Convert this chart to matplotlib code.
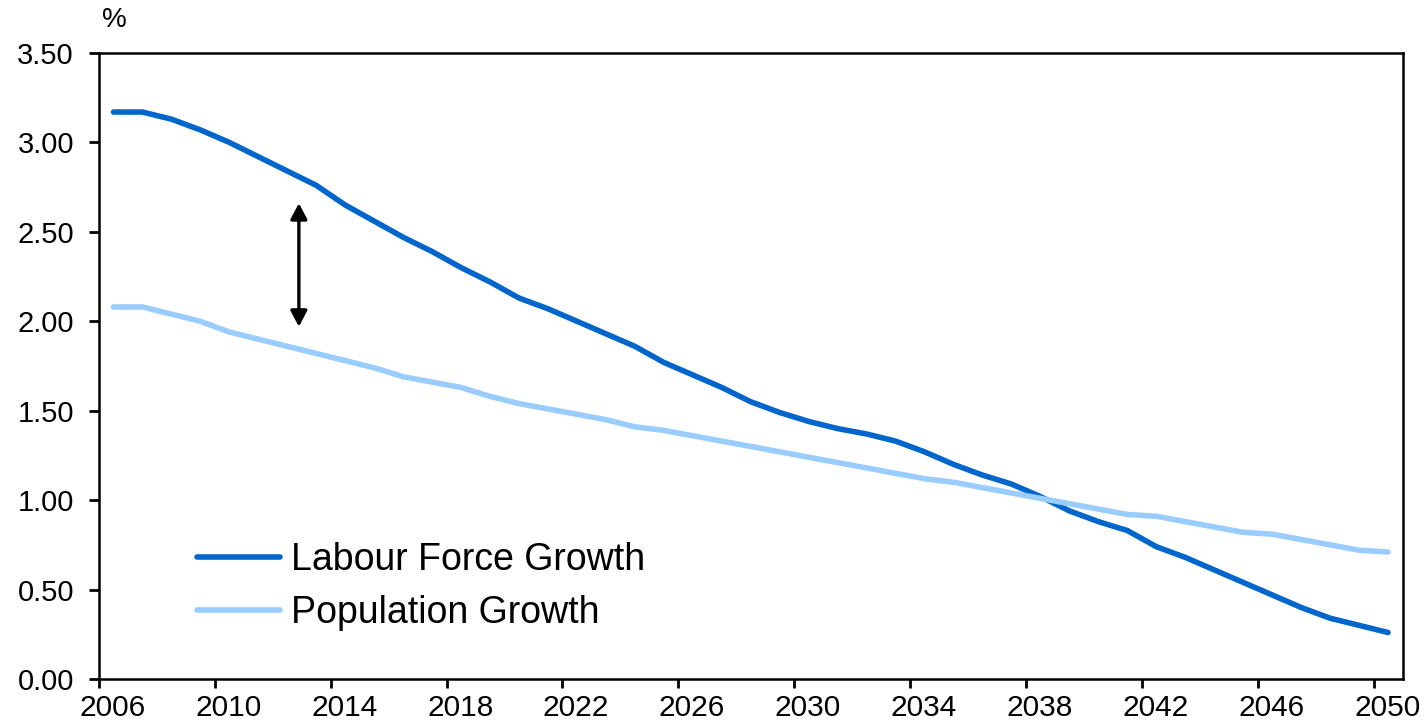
import matplotlib
matplotlib.use("Agg")
import matplotlib.pyplot as plt
import numpy as np

years = list(range(2006, 2051))

labour_force_growth = [
    3.17, 3.17, 3.13, 3.07, 3.00, 2.92, 2.84, 2.76, 2.65, 2.56,
    2.47, 2.39, 2.30, 2.22, 2.13, 2.07, 2.00, 1.93, 1.86, 1.77,
    1.70, 1.63, 1.55, 1.49, 1.44, 1.40, 1.37, 1.33, 1.27, 1.20,
    1.14, 1.09, 1.02, 0.94, 0.88, 0.83, 0.74, 0.68, 0.61, 0.54,
    0.47, 0.40, 0.34, 0.30, 0.26,
]

population_growth = [
    2.08, 2.08, 2.04, 2.00, 1.94, 1.90, 1.86, 1.82, 1.78, 1.74,
    1.69, 1.66, 1.63, 1.58, 1.54, 1.51, 1.48, 1.45, 1.41, 1.39,
    1.36, 1.33, 1.30, 1.27, 1.24, 1.21, 1.18, 1.15, 1.12, 1.10,
    1.07, 1.04, 1.01, 0.98, 0.95, 0.92, 0.91, 0.88, 0.85, 0.82,
    0.81, 0.78, 0.75, 0.72, 0.71,
]

series_labels = ["Labour Force Growth", "Population Growth"]
series_colors = ["#0066CC", "#99CCFF"]

# gap marker between the two series around 2012
gap_year = 2012.4
gap_top, gap_bottom = 2.66, 1.97

tick_years = list(range(2006, 2051, 4))
y_ticks = [0.0, 0.5, 1.0, 1.5, 2.0, 2.5, 3.0, 3.5]

plt.rcParams["font.family"] = ["Liberation Sans", "DejaVu Sans"]

W, H = 1424, 726
fig = plt.figure(figsize=(W / 100, H / 100), dpi=100)
left, right, top, bottom = 99, 1402.5, 53, 679
ax = fig.add_axes([left / W, 1 - bottom / H, (right - left) / W, (bottom - top) / H])

# category axis: each year occupies a slot, points at slot centres
n = len(years)
xc = np.arange(n) + 0.5
lw = 4.0
ax.plot(xc, labour_force_growth, color=series_colors[0], lw=lw,
        solid_capstyle="round", solid_joinstyle="round", label=series_labels[0])
ax.plot(xc, population_growth, color=series_colors[1], lw=lw,
        solid_capstyle="round", solid_joinstyle="round", label=series_labels[1])

ax.set_xlim(0, n)
ax.set_ylim(0, 3.5)

# tick marks on slot boundaries, labels near slot centres
major_pos = [years.index(y) for y in tick_years]
ax.set_xticks(major_pos)
ax.set_xticklabels([])
ax.set_xticks([p + 0.47 for p in major_pos], minor=True)
ax.set_xticklabels([str(y) for y in tick_years], minor=True)
ax.tick_params(axis="x", which="major", direction="out", length=6.5, width=2)
ax.tick_params(axis="x", which="minor", length=0, pad=11, labelsize=21.5)

ax.set_yticks(y_ticks)
ax.set_yticklabels([f"{v:.2f}" for v in y_ticks])
ax.tick_params(axis="y", direction="out", length=7, width=2, pad=11, labelsize=21)

for s in ax.spines.values():
    s.set_linewidth(1.8)
    s.set_color("black")

ax.text(0.002, 1 + 33 / 626, "%", transform=ax.transAxes, fontsize=20,
        ha="left", va="center")

gx = years.index(int(gap_year)) + (gap_year - int(gap_year)) + 0.5
ax.annotate("", xy=(gx, gap_top), xytext=(gx, gap_bottom),
            arrowprops=dict(arrowstyle="<|-|>,head_length=0.95,head_width=0.5",
                            color="black", lw=2.4, shrinkA=0, shrinkB=0))

leg = ax.legend(loc="lower left", bbox_to_anchor=(0.064, 0.053), frameon=False,
                fontsize=27, handlelength=2.2, handletextpad=0.3, labelspacing=0.45,
                borderaxespad=0)
for h in leg.get_lines():
    h.set_linewidth(lw)

fig.savefig("out.png", dpi=100)
